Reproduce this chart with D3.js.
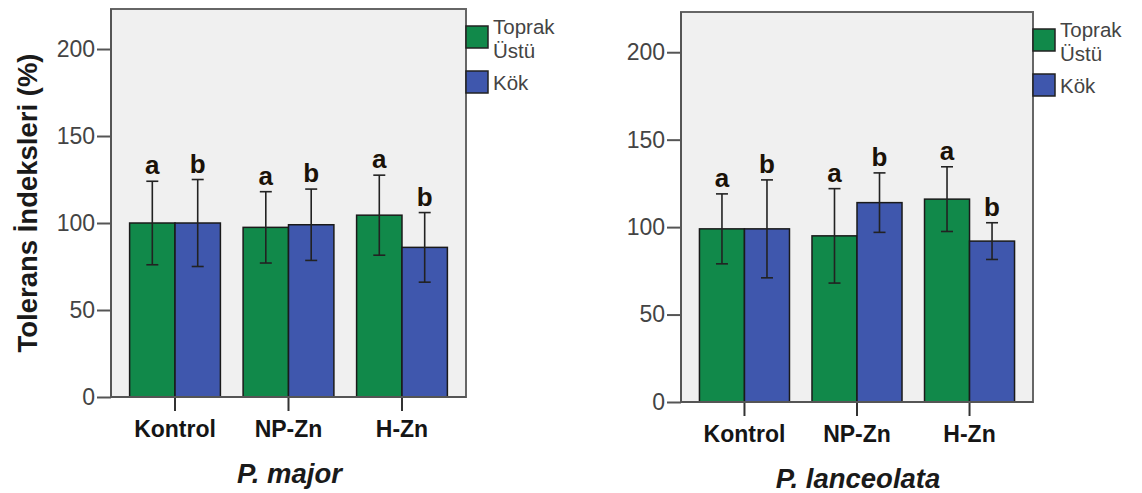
<!DOCTYPE html>
<html>
<head>
<meta charset="utf-8">
<script src="https://cdn.jsdelivr.net/npm/d3@7"></script>
<style>
  body { margin: 0; background: #fff; }
  text { font-family: Arial, "Liberation Sans", sans-serif; }
</style>
</head>
<body>
<div id="viz"></div>
<script>
/***************** Data *********************/
var categories = ["Kontrol", "NP-Zn", "H-Zn"];
var seriesNames = ["Toprak Üstü", "Kök"];
var yTicks = [0, 50, 100, 150, 200];

var majorShoot = [100, 97.5, 104.5];
var majorShootErr = [24, 20.5, 23];
var majorRoot = [100, 99, 86];
var majorRootErr = [25, 20.5, 20];

var lancShoot = [99, 95, 116];
var lancShootErr = [20, 27, 18.5];
var lancRoot = [99, 114, 92];
var lancRootErr = [28, 17, 10.5];

var shootLetters = ["a", "a", "a"];
var rootLetters = ["b", "b", "b"];

/***************** Style *********************/
var W = 1142, H = 493,
    ymax = 223,
    green = "#11894a",
    blue = "#3f57ad",
    frame_fill = "#f0f0f0",
    axis_color = "#555",
    text_color = "#444";

var svg = d3.select("#viz")
    .append("svg")
    .attr("width", W)
    .attr("height", H);

svg.append("rect").attr("width", W).attr("height", H).attr("fill", "#fff");

var makeRows = function(shoot, shootErr, root, rootErr) {
  var rows = [];
  for (var i = 0; i < categories.length; i++) {
    rows.push({cat: categories[i], s: seriesNames[0], v: shoot[i], e: shootErr[i], l: shootLetters[i]});
    rows.push({cat: categories[i], s: seriesNames[1], v: root[i], e: rootErr[i], l: rootLetters[i]});
  }
  return rows;
}

/***************** Build one panel *********************/
var drawPanel = function(p, rows, title) {
  var g = svg.append("g");

  var x = d3.scaleBand().domain(categories)
      .range([p.x0, p.x1]).paddingInner(0.2).paddingOuter(0.164);
  var xs = d3.scaleBand().domain(seriesNames).range([0, x.bandwidth()]);
  var y = d3.scaleLinear().domain([0, ymax]).range([p.y1, p.y0]);
  var color = d3.scaleOrdinal().domain(seriesNames).range([green, blue]);

  /* plot frame */
  g.append("rect")
      .attr("x", p.x0).attr("y", p.y0)
      .attr("width", p.x1 - p.x0).attr("height", p.y1 - p.y0)
      .attr("fill", frame_fill)
      .attr("stroke", "#666")
      .attr("stroke-width", 2);

  /* bars */
  g.selectAll(".bar").data(rows).enter()
      .append("rect")
      .attr("class", "bar")
      .attr("x", function(d) { return x(d.cat) + xs(d.s); })
      .attr("y", function(d) { return y(d.v); })
      .attr("width", xs.bandwidth())
      .attr("height", function(d) { return y(0) - y(d.v); })
      .attr("fill", function(d) { return color(d.s); })
      .attr("stroke", "#1a1a1a")
      .attr("stroke-width", 1.5);

  /* error bars */
  var cx = function(d) { return x(d.cat) + xs(d.s) + xs.bandwidth() / 2; };
  var err = g.selectAll(".err").data(rows).enter().append("g").attr("class", "err")
      .attr("stroke", "#222").attr("stroke-width", 1.6);
  err.append("line")
      .attr("x1", cx).attr("x2", cx)
      .attr("y1", function(d) { return y(d.v + d.e); })
      .attr("y2", function(d) { return y(d.v - d.e); });
  err.append("line")
      .attr("x1", function(d) { return cx(d) - 6; }).attr("x2", function(d) { return cx(d) + 6; })
      .attr("y1", function(d) { return y(d.v + d.e); })
      .attr("y2", function(d) { return y(d.v + d.e); });
  err.append("line")
      .attr("x1", function(d) { return cx(d) - 6; }).attr("x2", function(d) { return cx(d) + 6; })
      .attr("y1", function(d) { return y(d.v - d.e); })
      .attr("y2", function(d) { return y(d.v - d.e); });

  /* significance letters */
  g.selectAll(".letter").data(rows).enter()
      .append("text")
      .attr("class", "letter")
      .attr("x", cx)
      .attr("y", function(d) { return y(d.v + d.e) - 7; })
      .attr("text-anchor", "middle")
      .style("font-size", "26px")
      .style("font-weight", "bold")
      .style("fill", "#1a1208")
      .text(function(d) { return d.l; });

  /* axes */
  var yAxis = g.append("g")
      .attr("transform", "translate(" + p.x0 + ",0)")
      .call(d3.axisLeft(y).tickValues(yTicks).tickSize(14).tickPadding(2));
  yAxis.select(".domain").remove();
  yAxis.selectAll("line").attr("stroke", axis_color).attr("stroke-width", 2);
  yAxis.selectAll("text")
      .style("font-size", "23px")
      .style("fill", text_color);

  var xAxis = g.append("g")
      .attr("transform", "translate(0," + p.y1 + ")")
      .call(d3.axisBottom(x).tickSize(14).tickPadding(10));
  xAxis.select(".domain").remove();
  xAxis.selectAll("line").attr("stroke", "#333").attr("stroke-width", 2);
  xAxis.selectAll("text")
      .style("font-size", "23px")
      .style("font-weight", "bold")
      .style("fill", "#151515");

  /* left + bottom axis lines on top of the frame */
  g.append("line")
      .attr("x1", p.x0).attr("x2", p.x0).attr("y1", p.y0).attr("y2", p.y1)
      .attr("stroke", axis_color).attr("stroke-width", 2);
  g.append("line")
      .attr("x1", p.x0).attr("x2", p.x1).attr("y1", p.y1).attr("y2", p.y1)
      .attr("stroke", axis_color).attr("stroke-width", 2);

  /* species title */
  g.append("text")
      .attr("x", (p.x0 + p.x1) / 2 + 1)
      .attr("y", p.y1 + 86)
      .attr("text-anchor", "middle")
      .style("font-size", "27.5px")
      .style("font-weight", "bold")
      .style("font-style", "italic")
      .style("fill", "#1a1a1a")
      .text(title);

  /* legend */
  var lg = g.append("g").attr("transform", "translate(" + p.x1 + "," + p.y0 + ")");
  lg.selectAll(".sw").data(seriesNames).enter()
      .append("rect")
      .attr("x", 0)
      .attr("y", function(d, i) { return 17 + i * 45; })
      .attr("width", 22).attr("height", 22)
      .attr("fill", function(d) { return color(d); })
      .attr("stroke", "#222").attr("stroke-width", 1.5);
  /* first entry wraps onto two lines, like the original */
  var t1 = lg.append("text")
      .attr("y", 25)
      .style("font-size", "20.5px")
      .style("fill", text_color);
  seriesNames[0].split(" ").forEach(function(w, i) {
    t1.append("tspan").attr("x", 27).attr("dy", i === 0 ? 0 : 24).text(w);
  });
  lg.append("text")
      .attr("x", 27)
      .attr("y", 81)
      .style("font-size", "20.5px")
      .style("fill", text_color)
      .text(seriesNames[1]);
}

drawPanel({x0: 111, x1: 466, y0: 9, y1: 397},
          makeRows(majorShoot, majorShootErr, majorRoot, majorRootErr), "P. major");
drawPanel({x0: 681, x1: 1033, y0: 12, y1: 402},
          makeRows(lancShoot, lancShootErr, lancRoot, lancRootErr), "P. lanceolata");

/* y axis title (shared) */
svg.append("text")
    .attr("transform", "translate(37,203) rotate(-90)")
    .attr("text-anchor", "middle")
    .style("font-size", "27.5px")
    .style("font-weight", "bold")
    .style("fill", "#1a1a1a")
    .text("Tolerans İndeksleri (%)");
</script>
</body>
</html>
